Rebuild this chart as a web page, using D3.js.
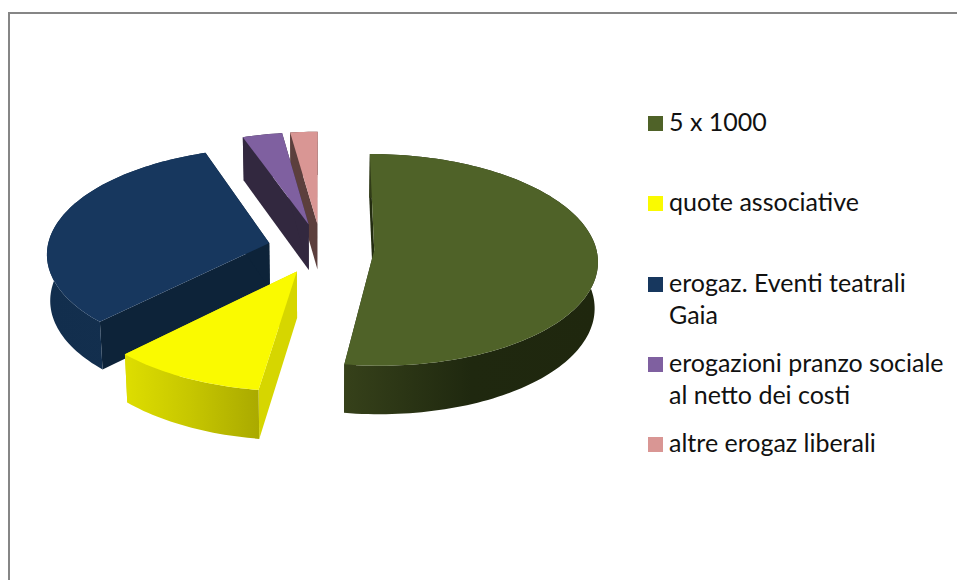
<!DOCTYPE html>
<html>
<head>
<meta charset="utf-8">
<script src="https://cdn.jsdelivr.net/npm/d3@7"></script>
<style>
  html, body { margin: 0; padding: 0; background: #fff; }
  svg { display: block; }
</style>
</head>
<body>
<div id="chart"></div>
<script>
// Values (share of the pie, percent)
const categories = ['5 x 1000', 'quote associative', 'erogaz. Eventi teatrali Gaia', 'erogazioni pranzo sociale al netto dei costi', 'altre erogaz liberali'];
const values = [52.3, 10.1, 32.2, 3.2, 2.2];
const legendLines = [['5 x 1000'], ['quote associative'], ['erogaz. Eventi teatrali', 'Gaia'], ['erogazioni pranzo sociale', 'al netto dei costi'], ['altre erogaz liberali']];
const topColors = ['#4f6228', '#fafa00', '#17375e', '#7f60a0', '#d99694'];
const cutColors = ['#232c10', '#d6d600', '#0d2339', '#32283f', '#5c3f3d'];
const wallStops = [
  ['#36411a', '#1f280f', '#1f270e'],
  ['#dede00', '#c6c600', '#aaaa00'],
  ['#122e4d', '#132f4e', '#14304f'],
  ['#32283f', '#32283f', '#32283f'],
  ['#5c3f3d', '#5c3f3d', '#5c3f3d']
];

const width = 957, height = 580;
const pie3d = { cx: 321, cy: 248.5, rx: 222, ry: 104.7, depth: 46, explode: 0.24, persp: 0.09, perspZ: 0.05, tilt: 0.012 };

const svg = d3.select('#chart').append('svg')
  .attr('width', width)
  .attr('height', height);
const defs = svg.append('defs');

// Chart frame, only top and left edges are in the picture
svg.append('path')
  .attr('d', `M9,${height}V13H${width}`)
  .attr('fill', 'none')
  .attr('stroke', '#868686')
  .attr('stroke-width', 2);

const arcs = d3.pie().sort(null).value(d => d)(values);

// Disc coordinates (u right, v towards the viewer) to screen, with a bit of perspective
function project(u, v, z) {
  const s = 1 / (1 - pie3d.persp * v);
  const sz = 1 / (1 - pie3d.perspZ * v);
  return [
    pie3d.cx + pie3d.rx * u * s * (1 - pie3d.tilt * z),
    pie3d.cy + pie3d.ry * v * s + z * pie3d.depth * sz
  ];
}

const line = d3.line();

function rimPoints(a, z) {
  const mid = (a.startAngle + a.endAngle) / 2;
  const ox = pie3d.explode * Math.sin(mid), oy = -pie3d.explode * Math.cos(mid);
  const steps = Math.ceil((a.endAngle - a.startAngle) * 40);
  return d3.range(steps + 1).map(i => {
    const t = a.startAngle + (a.endAngle - a.startAngle) * i / steps;
    return project(ox + Math.sin(t), oy - Math.cos(t), z);
  });
}

function apex(a, z) {
  const mid = (a.startAngle + a.endAngle) / 2;
  return project(pie3d.explode * Math.sin(mid), -pie3d.explode * Math.cos(mid), z);
}

const slices = svg.append('g').attr('class', 'slices');

// Back to front: pink, purple, blue, yellow, green
d3.range(arcs.length - 1, -1, -1).forEach(i => {
  const a = arcs[i];
  const top = rimPoints(a, 0), bottom = rimPoints(a, 1);
  const g = slices.append('g');

  const n = top.length - 1;
  [[top[0], bottom[0]], [top[n], bottom[n]]].forEach(([p, q]) => {
    g.append('path')
      .attr('d', line([apex(a, 0), p, q, apex(a, 1)]) + 'Z')
      .attr('fill', cutColors[i]);
  });

  const xs = d3.extent(top, d => d[0]);
  const grad = defs.append('linearGradient')
    .attr('id', `wall-${i}`)
    .attr('gradientUnits', 'userSpaceOnUse')
    .attr('x1', xs[0]).attr('x2', xs[1])
    .attr('y1', 0).attr('y2', 0);
  wallStops[i].forEach((c, k) => {
    grad.append('stop').attr('offset', k / 2).attr('stop-color', c);
  });

  g.append('path')
    .attr('d', line(top.concat(bottom.slice().reverse())) + 'Z')
    .attr('fill', `url(#wall-${i})`);

  g.append('path')
    .attr('d', line([apex(a, 0)].concat(top)) + 'Z')
    .attr('fill', topColors[i]);
});

// Legend
const legendY = d3.scalePoint().domain(categories).range([123, 444]);
const legend = svg.append('g').attr('class', 'legend')
  .selectAll('g')
  .data(categories)
  .join('g')
  .attr('transform', d => `translate(648,${Math.round(legendY(d))})`);

legend.append('rect')
  .attr('y', -7)
  .attr('width', 15)
  .attr('height', 15)
  .attr('fill', (d, i) => topColors[i]);

legend.append('text')
  .attr('font-family', 'Lato, sans-serif')
  .attr('font-size', '25px')
  .attr('fill', '#111')
  .selectAll('tspan')
  .data((d, i) => legendLines[i])
  .join('tspan')
  .attr('x', 21)
  .attr('y', (d, k) => 8 + k * 32)
  .text(d => d);
</script>
</body>
</html>
